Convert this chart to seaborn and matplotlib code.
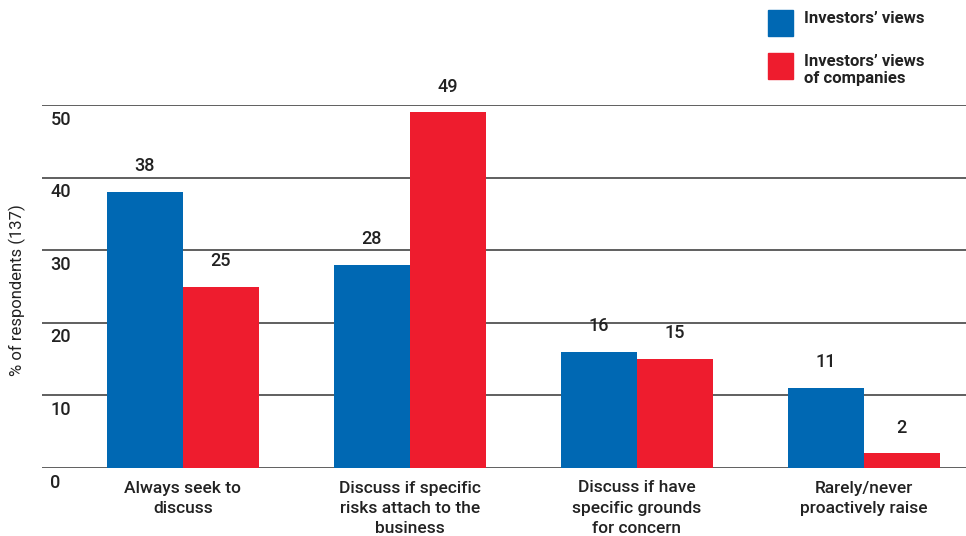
import matplotlib
matplotlib.use("Agg")
import matplotlib.pyplot as plt
from matplotlib.patches import Rectangle
import pandas as pd
import seaborn as sns

categories = ["Always seek to\ndiscuss",
              "Discuss if specific\nrisks attach to the\nbusiness",
              "Discuss if have\nspecific grounds\nfor concern",
              "Rarely/never\nproactively raise"]
series_names = ["Investors\u2019 views", "Investors\u2019 views\nof companies"]
investors_views = [38, 28, 16, 11]
views_of_companies = [25, 49, 15, 2]
y_ticks = [0, 10, 20, 30, 40, 50]
colors = ["#0068b3", "#ee1c2e"]

sns.set_theme(style="white")
plt.rcParams['font.family'] = ['Roboto', 'DejaVu Sans']
plt.rcParams['font.weight'] = 'medium'

df = pd.DataFrame({
    "category": categories * 2,
    "series": [series_names[0]] * 4 + [series_names[1]] * 4,
    "value": investors_views + views_of_companies,
})

fig = plt.figure(figsize=(9.66, 5.36), dpi=100)
ax = fig.add_axes([42 / 966, 68 / 536, 924 / 966, 363 / 536])

sns.barplot(data=df, x="category", y="value", hue="series", palette=colors,
            width=0.67, saturation=1, linewidth=0, ax=ax, legend=False)

ax.set_ylim(0, 50)
ax.set_xlim(-0.62, 3.45)
ax.set_yticks(y_ticks)
ax.set_yticklabels([])
ax.yaxis.grid(True, color="#444444", linewidth=1.2)
ax.set_axisbelow(True)
ax.tick_params(axis="both", length=0)
ax.tick_params(axis="x", pad=9, labelsize=12.5, colors="#222222")
for lab in ax.get_xticklabels():
    lab.set_linespacing(1.42)
    lab.set_fontweight("medium")
for s in ax.spines.values():
    s.set_visible(False)

# y tick labels sit just under each gridline
for t in y_ticks:
    ax.annotate(str(t), xy=(0, t), xycoords=ax.get_yaxis_transform(),
                xytext=(6, -4), textcoords="offset points",
                ha="left", va="top", fontsize=13, color="#222222",
                fontweight="medium")

for cont in ax.containers:
    ax.bar_label(cont, padding=12, fontsize=13, color="#222222",
                 fontweight="medium", clip_on=False)

ax.set_xlabel("")
ax.set_ylabel("% of respondents (137)", fontsize=12, color="#222222")
ax.yaxis.set_label_coords(-0.017, 0.49)

# legend
for i, (name, c) in enumerate(zip(series_names, colors)):
    ytop = [10, 53][i]
    fig.add_artist(Rectangle((768 / 966, 1 - (ytop + 26) / 536), 25 / 966, 26 / 536,
                             transform=fig.transFigure, color=c))
    fig.text(804 / 966, 1 - (ytop + 1) / 536, name, ha="left", va="top",
             fontsize=12, fontweight="bold", color="#222222", linespacing=1.2)

fig.savefig("out.png", dpi=100)
